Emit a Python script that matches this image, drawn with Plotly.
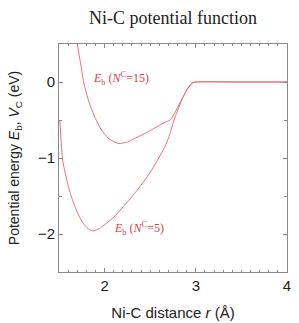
import plotly.graph_objects as go

r_n15 = [1.70, 1.74, 1.77, 1.83, 1.90, 1.96, 2.05, 2.15, 2.25, 2.32, 2.42, 2.50, 2.60, 2.68, 2.72, 2.78, 2.85, 2.92, 2.97, 3.0, 3.5, 4.0]
e_n15 = [0.50, 0.22, 0.00, -0.27, -0.48, -0.62, -0.75, -0.81, -0.79, -0.75, -0.69, -0.64, -0.57, -0.52, -0.50, -0.38, -0.22, -0.07, -0.01, 0.0, 0.0, 0.0]

r_n5 = [1.51, 1.54, 1.60, 1.65, 1.71, 1.76, 1.82, 1.87, 1.94, 2.01, 2.10, 2.19, 2.34, 2.50, 2.64, 2.70, 2.77, 2.86, 2.92, 2.96, 3.0, 3.5, 4.0]
e_n5 = [-0.50, -1.03, -1.36, -1.56, -1.74, -1.85, -1.93, -1.96, -1.93, -1.87, -1.78, -1.66, -1.45, -1.19, -0.90, -0.74, -0.47, -0.20, -0.07, -0.01, 0.0, 0.0, 0.0]

line_color = "#e9707c"
text_color = "#d9404e"

fig = go.Figure()
fig.add_trace(go.Scatter(x=r_n15, y=e_n15, mode="lines",
                         line=dict(color=line_color, width=1, shape="spline", smoothing=0.6),
                         showlegend=False, hoverinfo="skip"))
fig.add_trace(go.Scatter(x=r_n5, y=e_n5, mode="lines",
                         line=dict(color=line_color, width=1, shape="spline", smoothing=0.6),
                         showlegend=False, hoverinfo="skip"))

serif = "Liberation Serif"
sans = "Liberation Sans"

fig.add_annotation(x=1.85, y=0.04, xref="x", yref="y",
                   text="<i>E</i><sub>b</sub> (<i>N</i><sup>C</sup>=15)",
                   showarrow=False, xanchor="left", yanchor="middle",
                   font=dict(family=serif, size=12, color=text_color))
fig.add_annotation(x=2.08, y=-1.93, xref="x", yref="y",
                   text="<i>E</i><sub>b</sub> (<i>N</i><sup>C</sup>=5)",
                   showarrow=False, xanchor="left", yanchor="middle",
                   font=dict(family=serif, size=12, color=text_color))

axis_common = dict(showline=True, linecolor="#8a8a8a", linewidth=1, mirror="ticks",
                   ticks="inside", tickcolor="#8a8a8a", ticklen=4, showgrid=False,
                   zeroline=False, automargin=False,
                   tickfont=dict(family=sans, size=15, color="#222"))

fig.update_xaxes(range=[1.5, 4.0], tickvals=[2, 3, 4], ticktext=["2", "3", "4"],
                 minor=dict(dtick=0.1, tick0=1.5, ticks="inside", ticklen=2, tickcolor="#8a8a8a"),
                 title=dict(text="Ni-C distance <i>r</i> (Å)", font=dict(family=sans, size=15, color="#222"), standoff=14),
                 **axis_common)
fig.update_yaxes(range=[-2.5, 0.5], tickvals=[0, -1, -2], ticktext=["0", "−1", "−2"],
                 minor=dict(dtick=0.5, tick0=0, ticks="inside", ticklen=3, tickcolor="#8a8a8a"),
                 title=dict(text="Potential energy <i>E</i><sub>b</sub>, <i>V</i><sub>C</sub> (eV)",
                            font=dict(family=sans, size=14, color="#222"), standoff=14),
                 **axis_common)

fig.update_layout(
    width=299, height=323,
    margin=dict(l=59, r=12, t=44, b=51),
    paper_bgcolor="white", plot_bgcolor="white",
    title=dict(text="Ni-C potential function", x=(59 + 287) / 2 / 299, xanchor="center",
               y=1 - 18 / 323, yanchor="middle",
               font=dict(family=serif, size=18, color="#222")),
)

fig.write_html("out.html")
